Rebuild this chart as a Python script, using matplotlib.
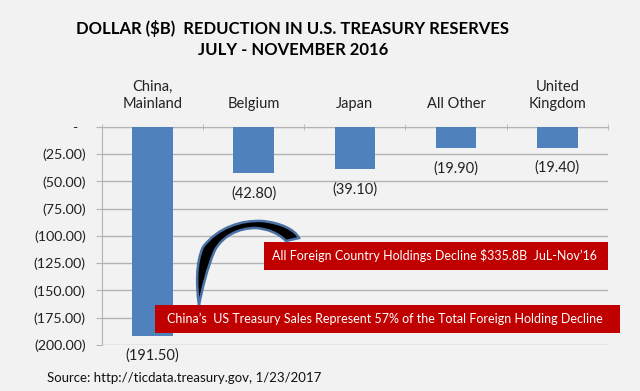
import numpy as np
import matplotlib
matplotlib.use('Agg')
import matplotlib.pyplot as plt
from matplotlib.patches import Rectangle, PathPatch
from matplotlib.path import Path
from matplotlib.ticker import FuncFormatter
import matplotlib.transforms as mtransforms

# data
countries = ['China,\nMainland', 'Belgium', 'Japan', 'All Other', 'United\nKingdom']
reduction = [-191.50, -42.80, -39.10, -19.90, -19.40]
yticks = [0, -25, -50, -75, -100, -125, -150, -175, -200]
title = 'DOLLAR ($B)  REDUCTION IN U.S. TREASURY RESERVES\nJULY - NOVEMBER 2016'
note_total = "All Foreign Country Holdings Decline $335.8B  JuL-Nov\u201916"
note_china = "China\u2019s  US Treasury Sales Represent 57% of the Total Foreign Holding Decline"
source = 'Source: http://ticdata.treasury.gov, 1/23/2017'

W, H = 640, 391
bg = '#f2f2f2'
blue = '#4f81bd'
red = '#c00000'
grid = '#b3b3b3'
font = ['Lato', 'DejaVu Sans']

def fx(px):
    return px / W

def fy(py):
    return 1 - py / H

fig = plt.figure(figsize=(W / 100, H / 100), dpi=100, facecolor=bg)
ax = fig.add_axes([fx(101.7), fy(345), fx(608) - fx(101.7), fy(126.7) - fy(345)])
ax.set_facecolor(bg)

x = np.arange(len(countries))
ax.bar(x, reduction, width=0.4, color=blue, zorder=3)
ax.set_xlim(-0.5, len(countries) - 0.5)
ax.set_ylim(-200, 0)

ax.set_yticks(yticks)
ax.yaxis.set_major_formatter(FuncFormatter(
    lambda v, p: '-  ' if v == 0 else '({:.2f})'.format(abs(v))))
ax.tick_params(axis='y', length=4, color=grid, labelsize=10.3, pad=7.5,
               labelcolor='#222222')
for lab in ax.get_yticklabels():
    lab.set_family(font)
ax.grid(axis='y', color=grid, linewidth=1, zorder=0)

ax.set_xticks([])
ax.set_xticks(np.arange(-0.5, len(countries)), minor=True)
ax.tick_params(axis='x', which='minor', direction='inout', length=5,
               color=grid, labelbottom=False)
ax.xaxis.set_ticks_position('top')
for s in ['right', 'bottom']:
    ax.spines[s].set_visible(False)
ax.spines['left'].set_color(grid)
ax.spines['top'].set_color(grid)

# category labels above the zero line
trans = mtransforms.blended_transform_factory(ax.transData, fig.transFigure)
for xi, name in zip(x, countries):
    ax.text(xi, fy(108), name, transform=trans, ha='center', va='baseline',
            fontsize=10.5, family=font, color='#222222', linespacing=1.25)

# value labels under each bar
for xi, v in zip(x, reduction):
    ax.annotate('({:.2f})'.format(abs(v)), (xi, v), xytext=(0, -9),
                textcoords='offset points', ha='center', va='top',
                fontsize=10.5, family=font, color='#222222',
                annotation_clip=False)

fig.text(fx(293), fy(39), title, ha='center', va='center', fontsize=12,
         fontweight='bold', family=font, color='#000000', linespacing=1.45)

# red callout boxes
fig.patches.append(Rectangle((fx(263.5), fy(270)), fx(608) - fx(263.5),
                             fy(241.7) - fy(270), transform=fig.transFigure,
                             facecolor=red, edgecolor='none', zorder=5))
fig.text(fx(434), fy(255), note_total, ha='center', va='center', fontsize=9,
         family=font, color='white', zorder=6)
fig.patches.append(Rectangle((fx(155), fy(333)), fx(620) - fx(155),
                             fy(305) - fy(333), transform=fig.transFigure,
                             facecolor=red, edgecolor='none', zorder=5))
fig.text(fx(385), fy(319), note_china, ha='center', va='center', fontsize=9,
         family=font, color='white', zorder=6)

# curved arrow shape between the boxes
pts = [(199, 305),
       (196, 285), (196, 262), (203, 247),
       (218, 227), (242, 220), (262, 221),
       (282, 223), (295, 230), (299, 238),
       (286, 241),
       (278, 233), (268, 229), (256, 228),
       (238, 228), (223, 236), (215, 250),
       (207, 268), (202, 290), (199, 305)]
codes = [Path.MOVETO] + [Path.CURVE4] * 9 + [Path.LINETO] + [Path.CURVE4] * 9
verts = [(fx(a), fy(b)) for a, b in pts]
arrow = PathPatch(Path(verts, codes), transform=fig.transFigure,
                  facecolor='black', edgecolor='#4a72a6', linewidth=1.8,
                  zorder=7)
fig.patches.append(arrow)

fig.text(fx(47), fy(378), source, ha='left', va='center', fontsize=9.5,
         family=font, color='#111111')

fig.savefig('out.png', dpi=100, facecolor=bg)
